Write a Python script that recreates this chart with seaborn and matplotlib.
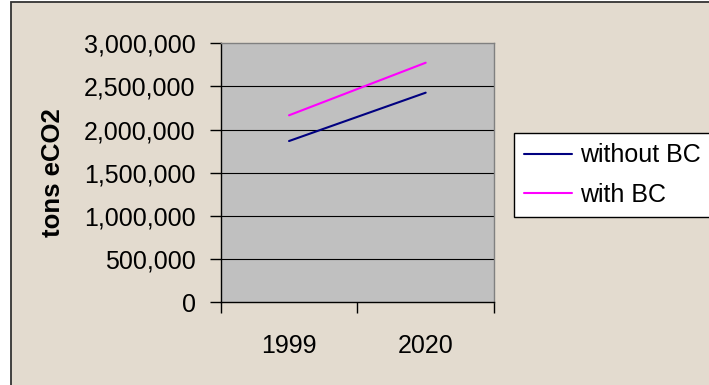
import matplotlib
matplotlib.use("Agg")
import matplotlib.pyplot as plt
from matplotlib.patches import Rectangle
from matplotlib.ticker import FuncFormatter, FixedLocator, NullFormatter
import pandas as pd
import seaborn as sns

# Emissions estimates (tons eCO2)
years = ["1999", "2020"]
without_bc = [1868000, 2428000]
with_bc = [2166000, 2775000]
series_names = ["without BC", "with BC"]
y_ticks = [0, 500000, 1000000, 1500000, 2000000, 2500000, 3000000]

df = pd.DataFrame({
    "year": years * 2,
    "value": without_bc + with_bc,
    "series": [series_names[0]] * len(years) + [series_names[1]] * len(years),
})

sns.set_theme(style="white")
plt.rcParams["font.family"] = ["Liberation Sans", "DejaVu Sans"]
plt.rcParams["text.color"] = "black"

W, H = 709, 385
fig = plt.figure(figsize=(W / 100, H / 100), dpi=100)
fig.patch.set_facecolor("white")

# Beige chart-area panel with a dark outline on its left and top edges
fig.patches.append(Rectangle((10.5 / W, -0.05), 1.1, 1 - 1.7 / H + 0.05,
                             transform=fig.transFigure, facecolor="#E3DBCF",
                             edgecolor="#333333", linewidth=1.3, zorder=-10))

L, R, T, B = 220.7, 494.0, 43.3, 302.3
ax = fig.add_axes([L / W, 1 - B / H, (R - L) / W, (B - T) / H])
ax.set_zorder(1)
ax.set_facecolor("#C0C0C0")

sns.lineplot(data=df, x="year", y="value", hue="series",
             palette=["#000080", "#FF00FF"], linewidth=1.5, ax=ax,
             legend=True)

ax.set_xlim(-0.5, 1.5)
ax.set_ylim(0, 3000000)

# Y axis
ax.yaxis.set_major_locator(FixedLocator(y_ticks))
ax.yaxis.set_major_formatter(FuncFormatter(lambda v, p: f"{int(v):,}"))
ax.tick_params(axis="y", which="major", direction="out", length=8, width=1,
               color="black", pad=10, labelsize=18, labelcolor="black", left=True)
for v in y_ticks[1:-1]:
    ax.axhline(v, color="black", linewidth=0.8, zorder=1)

# X axis: ticks at category boundaries, labels centered in categories
ax.xaxis.set_major_locator(FixedLocator([-0.5, 0.5, 1.5]))
ax.xaxis.set_major_formatter(NullFormatter())
ax.xaxis.set_minor_locator(FixedLocator([0, 1]))
ax.xaxis.set_minor_formatter(FuncFormatter(lambda v, p: years[int(round(v))]))
ax.tick_params(axis="x", which="major", direction="out", length=8, width=1,
               color="black", bottom=True)
ax.tick_params(axis="x", which="minor", length=0, pad=23, labelsize=18,
               labelcolor="black", bottom=True)

ax.set_xlabel("")
ax.set_ylabel("tons eCO2", fontsize=18.5, fontweight="bold", color="black")
ax.yaxis.set_label_coords((53 - L) / (R - L), 0.5)
ax.yaxis.label.set_verticalalignment("center")

for side in ["left", "bottom"]:
    ax.spines[side].set_color("black")
    ax.spines[side].set_linewidth(1)
for side in ["top", "right"]:
    ax.spines[side].set_color("#808080")
    ax.spines[side].set_linewidth(1)

handles, labels = ax.get_legend_handles_labels()
ax.get_legend().remove()
leg = fig.legend(handles, labels, loc="upper left",
                 bbox_to_anchor=(514 / W, 1 - 133.3 / H),
                 bbox_transform=fig.transFigure, borderaxespad=0,
                 fontsize=18, frameon=True, fancybox=False, shadow=False,
                 handlelength=1.92, handletextpad=0.32, labelspacing=0.62,
                 borderpad=0.4)
leg.set_zorder(2)
leg.get_frame().set_edgecolor("black")
leg.get_frame().set_linewidth(1)
leg.get_frame().set_facecolor("white")
leg.get_frame().set_alpha(1)
for text in leg.get_texts():
    text.set_color("black")
for line in leg.get_lines():
    line.set_linewidth(1.5)

fig.savefig("out.png", dpi=100)
